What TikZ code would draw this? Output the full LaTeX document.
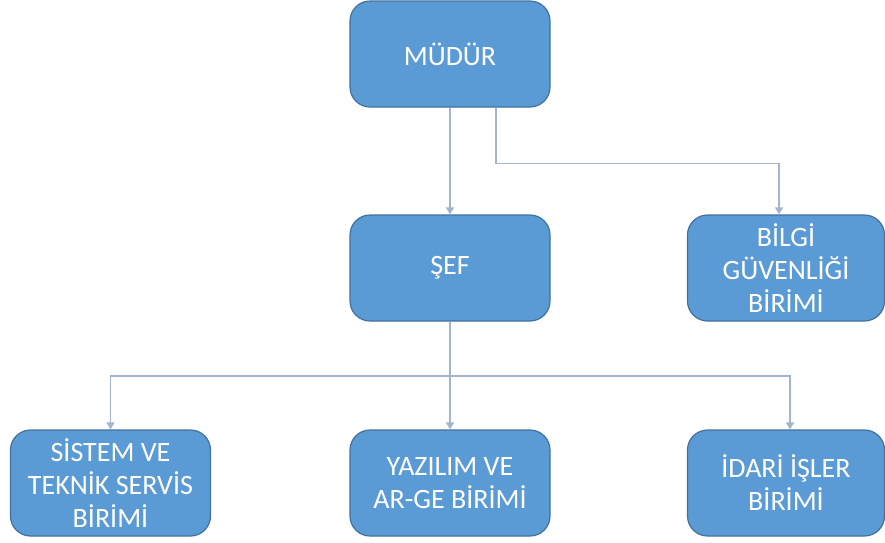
\documentclass[tikz,border=0pt]{standalone}
\usepackage{fontspec}
\setmainfont{Carlito}
\usetikzlibrary{arrows.meta}

\definecolor{boxblue}{HTML}{5B9BD5}
\definecolor{boxedge}{HTML}{41719C}
\definecolor{linkgray}{HTML}{A3B5CD}

\begin{document}
\begin{tikzpicture}[x=1pt, y=-1pt, >={Triangle[width=8pt,length=7pt]},
  unit/.style={draw=boxedge, line width=1.2pt, fill=boxblue, rounded corners=20pt,
    minimum width=200pt, minimum height=106pt, align=center, text=white,
    font=\fontsize{28}{33}\selectfont, inner sep=2pt},
  link/.style={draw=linkgray, line width=1.5pt, ->}]

  \useasboundingbox (0,0) rectangle (885,542);

  \node[unit] (mudur) at (450,54) {MÜDÜR};
  \node[unit] (sef) at (450,268) {ŞEF};
  \node[unit, minimum width=197pt] (bilgi) at (786,268) {BİLGİ\\GÜVENLİĞİ\\BİRİMİ};

  \node[unit] (sistem) at (110.5,483) {SİSTEM VE\\TEKNİK SERVİS\\BİRİMİ};
  \node[unit] (yazilim) at (450,483) {YAZILIM VE\\AR-GE BİRİMİ};
  \node[unit, minimum width=197pt] (idari) at (786,483) {İDARİ İŞLER\\BİRİMİ};


  \draw[link] (mudur) -- (sef);
  \draw[link] ([xshift=46pt]mudur.south) -- ++(0,56) -| ([xshift=-7pt]bilgi.north);

  \coordinate (split) at (450,376);

  \draw[link] (sef) -- (yazilim);
  \draw[link] (split) -| (sistem.north);
  \draw[link] (split) -| ([xshift=4pt]idari.north);


\end{tikzpicture}
\end{document}
